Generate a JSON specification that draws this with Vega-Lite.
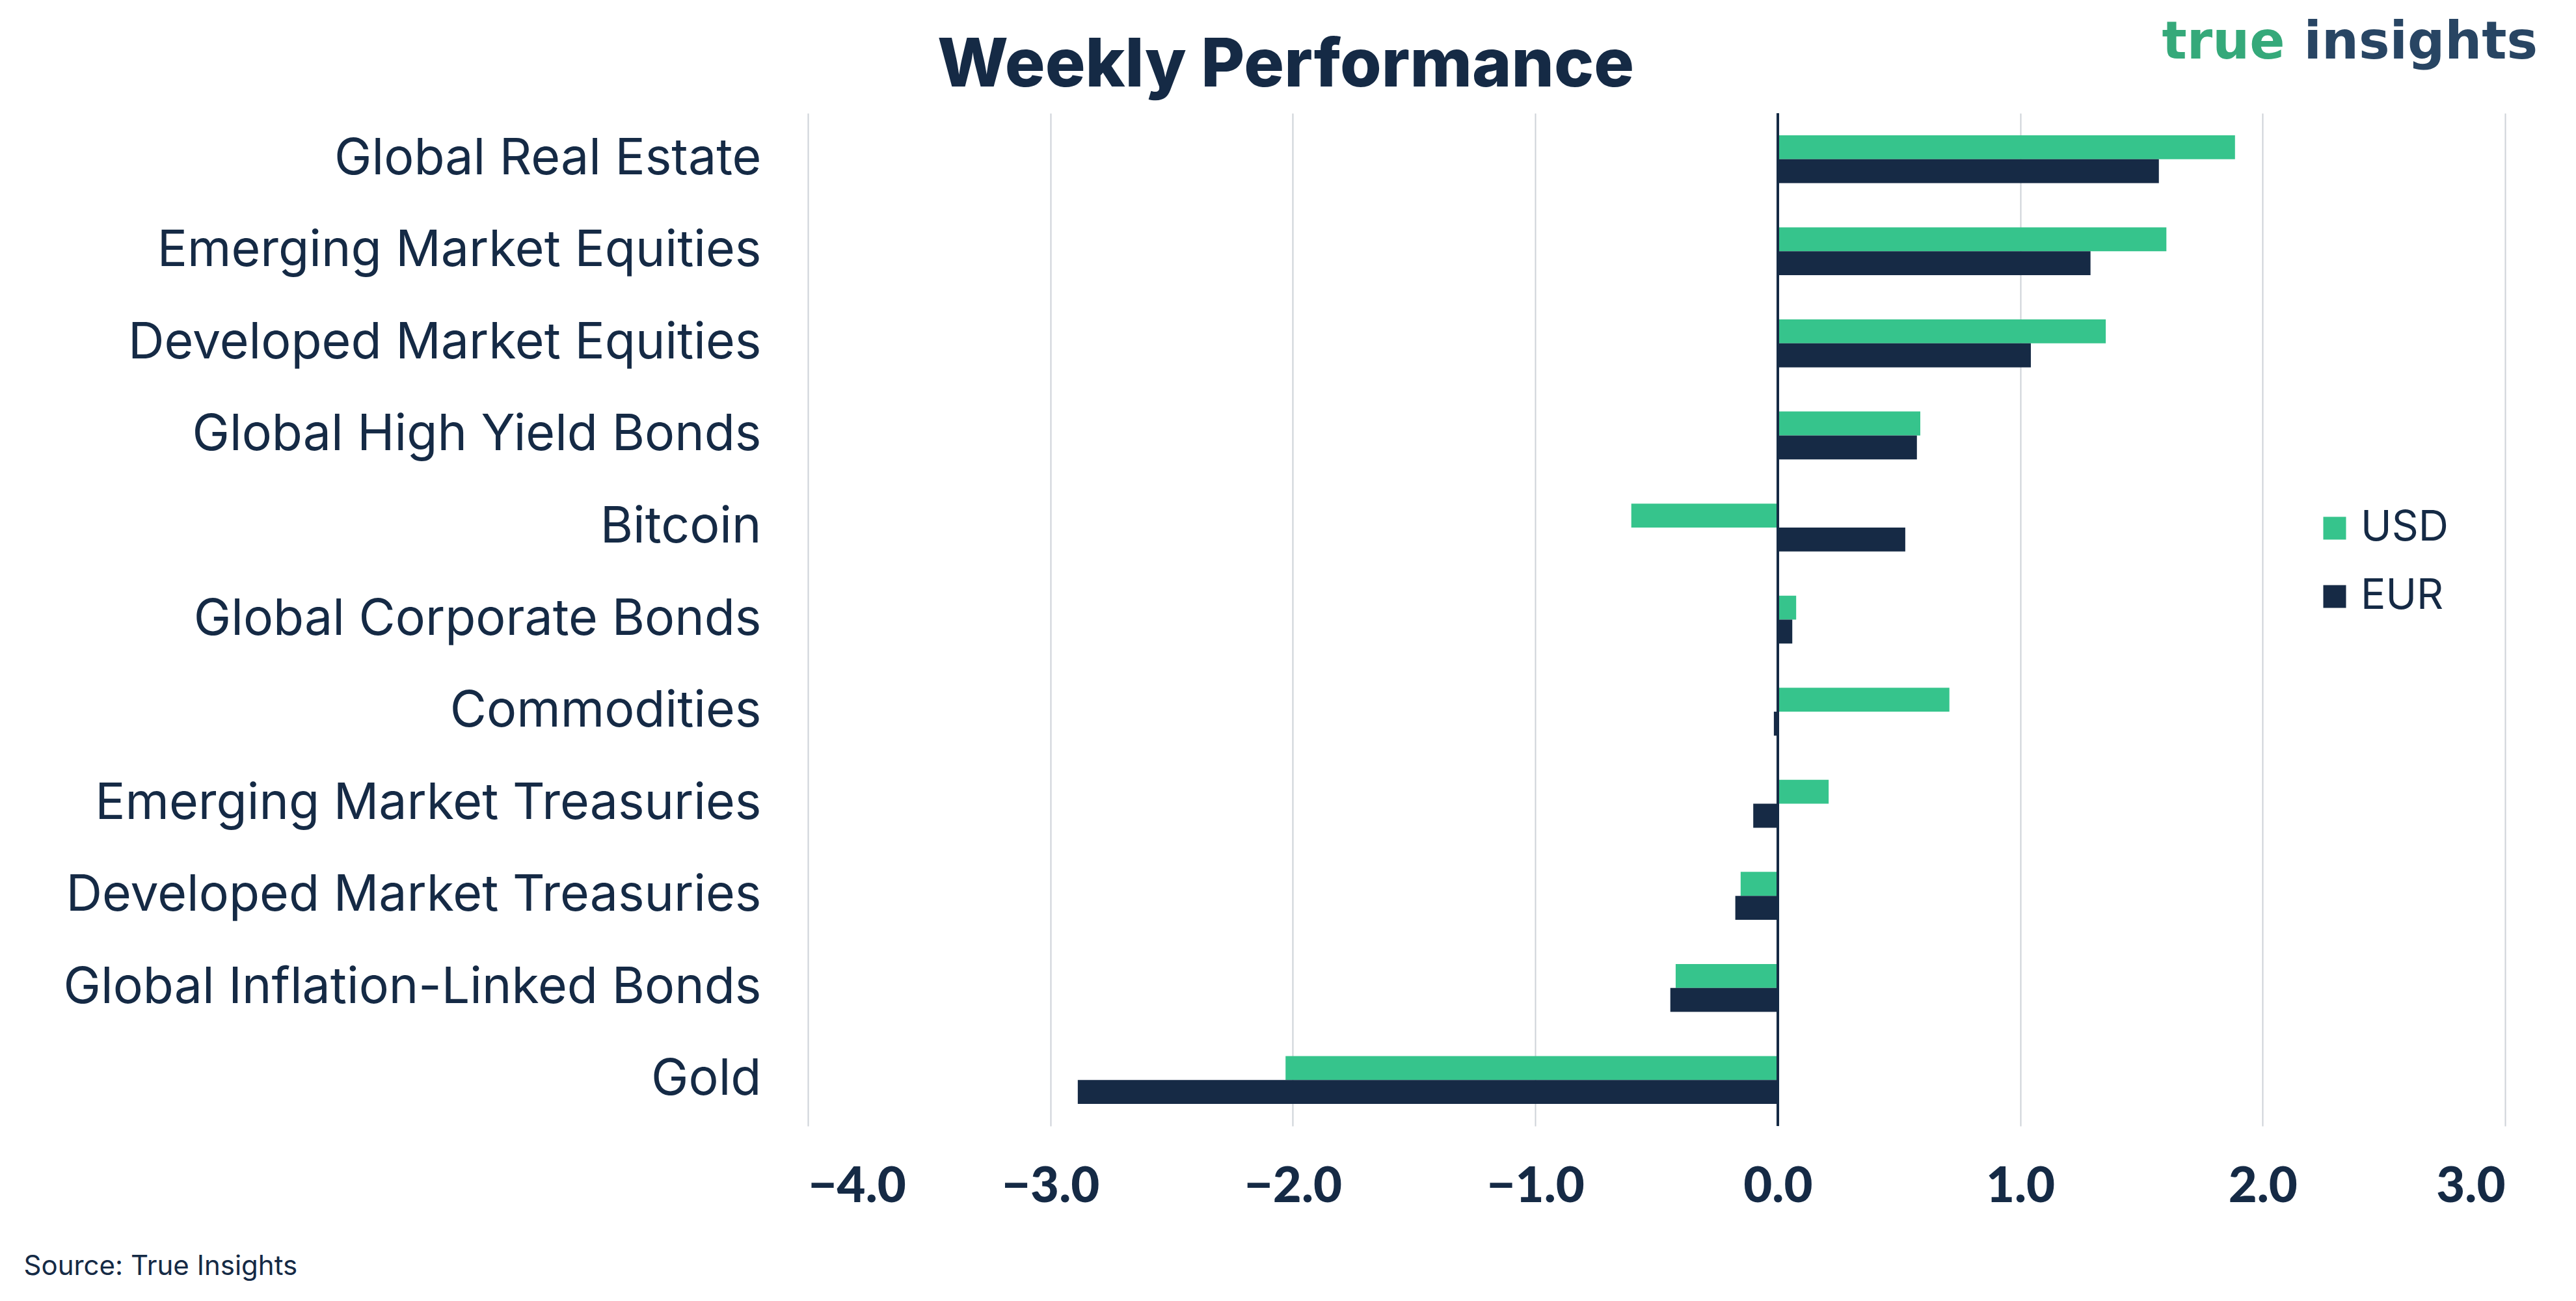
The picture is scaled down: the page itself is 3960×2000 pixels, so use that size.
{
  "$schema": "https://vega.github.io/schema/vega-lite/v6.json",
  "autosize": {"type": "none"},
  "padding": {"left": 1242, "top": 174, "right": 109, "bottom": 269},
  "width": 2609,
  "height": 1557,
  "background": "#ffffff",
  "title": {
    "text": "Weekly Performance",
    "fontSize": 103,
    "font": "Inter",
    "fontWeight": 800,
    "color": "#152A45",
    "anchor": "middle",
    "frame": "group",
    "dx": -570,
    "dy": 150,
    "offset": 20
  },
  "data": {
    "values": [
      {"category": "Global Real Estate", "currency": "USD", "value": 1.886},
      {"category": "Global Real Estate", "currency": "EUR", "value": 1.572},
      {"category": "Emerging Market Equities", "currency": "USD", "value": 1.603},
      {"category": "Emerging Market Equities", "currency": "EUR", "value": 1.29},
      {"category": "Developed Market Equities", "currency": "USD", "value": 1.353},
      {"category": "Developed Market Equities", "currency": "EUR", "value": 1.044},
      {"category": "Global High Yield Bonds", "currency": "USD", "value": 0.588},
      {"category": "Global High Yield Bonds", "currency": "EUR", "value": 0.574},
      {"category": "Bitcoin", "currency": "USD", "value": -0.604},
      {"category": "Bitcoin", "currency": "EUR", "value": 0.526},
      {"category": "Global Corporate Bonds", "currency": "USD", "value": 0.076},
      {"category": "Global Corporate Bonds", "currency": "EUR", "value": 0.06},
      {"category": "Commodities", "currency": "USD", "value": 0.708},
      {"category": "Commodities", "currency": "EUR", "value": -0.016},
      {"category": "Emerging Market Treasuries", "currency": "USD", "value": 0.21},
      {"category": "Emerging Market Treasuries", "currency": "EUR", "value": -0.101},
      {"category": "Developed Market Treasuries", "currency": "USD", "value": -0.153},
      {"category": "Developed Market Treasuries", "currency": "EUR", "value": -0.175},
      {"category": "Global Inflation-Linked Bonds", "currency": "USD", "value": -0.421},
      {"category": "Global Inflation-Linked Bonds", "currency": "EUR", "value": -0.443},
      {"category": "Gold", "currency": "USD", "value": -2.03},
      {"category": "Gold", "currency": "EUR", "value": -2.887}
    ]
  },
  "layer": [
    {
      "mark": {"type": "bar"},
      "encoding": {
        "y": {
          "field": "category",
          "type": "nominal",
          "sort": null,
          "scale": {"paddingInner": 0.48, "paddingOuter": 0.24},
          "axis": {
            "title": "insights",
            "titleAngle": 0,
            "titleAlign": "left",
            "titleBaseline": "alphabetic",
            "titleX": 2299,
            "titleY": -85,
            "titleFont": "DejaVu Sans",
            "titleFontSize": 80,
            "titleFontWeight": "bold",
            "titleColor": "#284563",
            "labelFont": "Inter",
            "labelFontSize": 77,
            "labelColor": "#152A45",
            "labelPadding": 72,
            "labelLimit": 2000,
            "ticks": false,
            "domain": false,
            "grid": false
          }
        },
        "yOffset": {
          "field": "currency",
          "type": "nominal",
          "sort": ["USD", "EUR"],
          "scale": {"paddingInner": 0, "paddingOuter": 0}
        },
        "x": {
          "field": "value",
          "type": "quantitative",
          "scale": {"domain": [-4, 3], "nice": false, "zero": false},
          "axis": {
            "orient": "bottom",
            "values": [-4, -3, -2, -1, 0, 1, 2, 3],
            "format": ".1f",
            "labelFont": "Lato",
            "labelFontSize": 76,
            "labelFontWeight": 900,
            "labelColor": "#152A45",
            "labelPadding": 56,
            "ticks": false,
            "domain": false,
            "grid": true,
            "gridColor": "#CDD2D8",
            "gridWidth": 2,
            "title": "Source: True Insights",
            "titleFont": "Inter",
            "titleFontSize": 42,
            "titleFontWeight": "normal",
            "titleColor": "#152A45",
            "titleAnchor": "start",
            "titleAlign": "left",
            "titleBaseline": "alphabetic",
            "titleX": -1206,
            "titleY": 228
          }
        },
        "color": {
          "field": "currency",
          "type": "nominal",
          "sort": ["USD", "EUR"],
          "scale": {"domain": ["USD", "EUR"], "range": ["#36C48C", "#162A45"]},
          "legend": {
            "title": null,
            "orient": "none",
            "legendX": 2315,
            "legendY": 606,
            "symbolType": "square",
            "symbolSize": 1225,
            "symbolStrokeWidth": 0,
            "labelFont": "Inter",
            "labelFontSize": 64,
            "labelColor": "#152A45",
            "labelOffset": 8,
            "rowPadding": 41,
            "padding": 0
          }
        }
      }
    },
    {
      "mark": {"type": "rule", "color": "#152A45", "strokeWidth": 3},
      "encoding": {
        "x": {
          "datum": 0,
          "type": "quantitative",
          "axis": {
            "orient": "top",
            "labels": false,
            "ticks": false,
            "domain": false,
            "grid": false,
            "title": "true",
            "titleFont": "DejaVu Sans",
            "titleFontSize": 80,
            "titleFontWeight": "bold",
            "titleColor": "#35A97A",
            "titleAnchor": "start",
            "titleAlign": "left",
            "titleBaseline": "alphabetic",
            "titleX": 2081,
            "titleY": -85
          }
        }
      }
    }
  ],
  "resolve": {"axis": {"x": "independent"}},
  "config": {
    "view": {"stroke": null},
    "font": "Inter"
  }
}
